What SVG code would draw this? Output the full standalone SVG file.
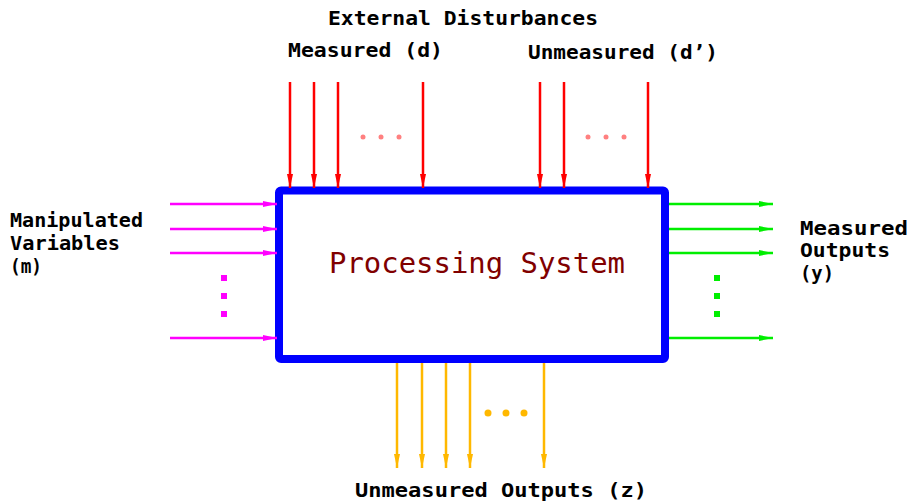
<svg xmlns="http://www.w3.org/2000/svg" width="913" height="503" viewBox="0 0 913 503">
<style>
.t{font-family:"DejaVu Sans Mono","Liberation Mono",monospace;font-weight:bold;fill:#000;font-size:19px}
.r{stroke:#ff0000;stroke-width:2.5;marker-end:url(#mr)}
.m{stroke:#ff00ff;stroke-width:2.5;marker-end:url(#mm)}
.g{stroke:#00ee00;stroke-width:2.5;marker-end:url(#mg)}
.o{stroke:#ffb800;stroke-width:2.5;marker-end:url(#mo)}
</style>
<defs>
<marker id="mr" viewBox="0 0 14 8" refX="14" refY="4" markerWidth="14" markerHeight="8" markerUnits="userSpaceOnUse" orient="auto"><path d="M0,1 L14,4 L0,7 z" fill="#ff0000"/></marker>
<marker id="mm" viewBox="0 0 14 8" refX="14" refY="4" markerWidth="14" markerHeight="8" markerUnits="userSpaceOnUse" orient="auto"><path d="M0,1 L14,4 L0,7 z" fill="#ff00ff"/></marker>
<marker id="mg" viewBox="0 0 14 8" refX="14" refY="4" markerWidth="14" markerHeight="8" markerUnits="userSpaceOnUse" orient="auto"><path d="M0,1 L14,4 L0,7 z" fill="#00ee00"/></marker>
<marker id="mo" viewBox="0 0 14 8" refX="14" refY="4" markerWidth="14" markerHeight="8" markerUnits="userSpaceOnUse" orient="auto"><path d="M0,1 L14,4 L0,7 z" fill="#ffb800"/></marker>
</defs>
<rect width="913" height="503" fill="#fff"/>
<g id="system">
<rect x="279" y="190.5" width="386" height="168.5" rx="2" fill="#fff" stroke="#0000ff" stroke-width="8"/>
<text x="477" y="273" text-anchor="middle" font-family="DejaVu Sans Mono, Liberation Mono, monospace" font-size="28" fill="#800000" textLength="296" lengthAdjust="spacingAndGlyphs">Processing System</text>
</g>
<g id="labels">
<text class="t" x="328" y="25" textLength="270" lengthAdjust="spacingAndGlyphs">External Disturbances</text>
<text class="t" x="288" y="57" textLength="155" lengthAdjust="spacingAndGlyphs">Measured (d)</text>
<text class="t" x="528" y="59" textLength="190" lengthAdjust="spacingAndGlyphs">Unmeasured (d’)</text>
<text class="t" x="10" y="227" textLength="133" lengthAdjust="spacingAndGlyphs">Manipulated</text>
<text class="t" x="10" y="250" textLength="110" lengthAdjust="spacingAndGlyphs">Variables</text>
<text class="t" x="10" y="273" textLength="32" lengthAdjust="spacingAndGlyphs">(m)</text>
<text class="t" x="800" y="235" textLength="108" lengthAdjust="spacingAndGlyphs">Measured</text>
<text class="t" x="800" y="257" textLength="90" lengthAdjust="spacingAndGlyphs">Outputs</text>
<text class="t" x="800" y="280" textLength="34" lengthAdjust="spacingAndGlyphs">(y)</text>
<text class="t" x="355" y="497" textLength="292" lengthAdjust="spacingAndGlyphs">Unmeasured Outputs (z)</text>
</g>
<g id="connectors">
<line class="r" x1="290" y1="82" x2="290" y2="188"/>
<line class="r" x1="314" y1="82" x2="314" y2="188"/>
<line class="r" x1="338" y1="82" x2="338" y2="188"/>
<line class="r" x1="423" y1="82" x2="423" y2="188"/>
<line class="r" x1="540" y1="82" x2="540" y2="188"/>
<line class="r" x1="564" y1="82" x2="564" y2="188"/>
<line class="r" x1="648" y1="82" x2="648" y2="188"/>
<line class="m" x1="170" y1="204" x2="277" y2="204"/>
<line class="m" x1="170" y1="229" x2="277" y2="229"/>
<line class="m" x1="170" y1="253" x2="277" y2="253"/>
<line class="m" x1="170" y1="338" x2="277" y2="338"/>
<line class="g" x1="669" y1="204" x2="773" y2="204"/>
<line class="g" x1="669" y1="229" x2="773" y2="229"/>
<line class="g" x1="669" y1="253" x2="773" y2="253"/>
<line class="g" x1="669" y1="338" x2="773" y2="338"/>
<line class="o" x1="397" y1="363" x2="397" y2="468"/>
<line class="o" x1="422" y1="363" x2="422" y2="468"/>
<line class="o" x1="446" y1="363" x2="446" y2="468"/>
<line class="o" x1="470" y1="363" x2="470" y2="468"/>
<line class="o" x1="544" y1="363" x2="544" y2="468"/>
</g>
<g id="ellipses">
<g fill="#ff8080"><circle cx="363" cy="137" r="2.5"/><circle cx="381" cy="137" r="2.5"/><circle cx="399" cy="137" r="2.5"/><circle cx="588" cy="137" r="2.5"/><circle cx="606" cy="137" r="2.5"/><circle cx="624" cy="137" r="2.5"/></g>
<g fill="#ff00ff"><rect x="221" y="275" width="6" height="6"/><rect x="221" y="293" width="6" height="6"/><rect x="221" y="311" width="6" height="6"/></g>
<g fill="#00ee00"><rect x="714" y="275" width="6" height="6"/><rect x="714" y="293" width="6" height="6"/><rect x="714" y="311" width="6" height="6"/></g>
<g fill="#ffb800"><circle cx="488" cy="413" r="3.5"/><circle cx="506" cy="413" r="3.5"/><circle cx="524" cy="413" r="3.5"/></g>
</g>
</svg>
